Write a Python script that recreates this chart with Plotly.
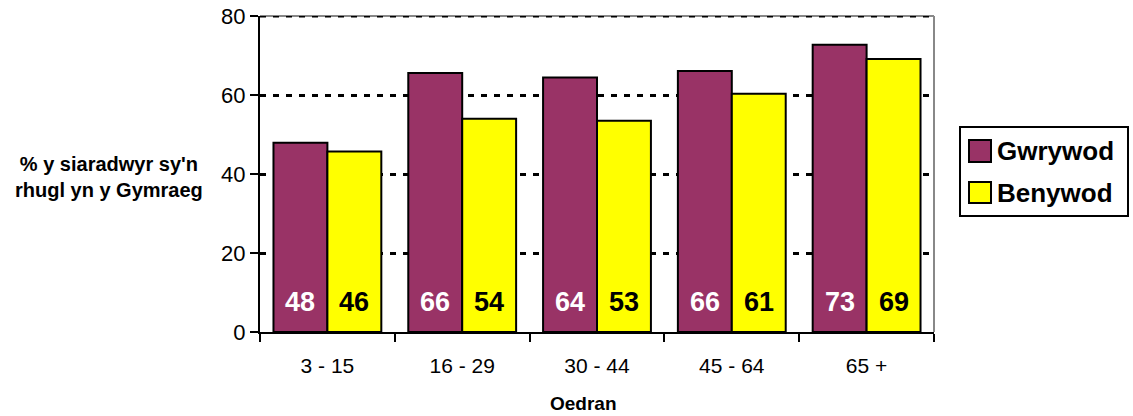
import plotly.graph_objects as go

categories = ["3 - 15", "16 - 29", "30 - 44", "45 - 64", "65 +"]
gwrywod = [47.9, 65.6, 64.4, 66.1, 72.7]
benywod = [45.7, 54.0, 53.5, 60.3, 69.1]
gwrywod_labels = ["48", "66", "64", "66", "73"]
benywod_labels = ["46", "54", "53", "61", "69"]
yticks = [0, 20, 40, 60, 80]

MAROON = "#993366"
YELLOW = "#FFFF00"
FONT = "Arial, Liberation Sans, sans-serif"

fig = go.Figure()
fig.add_trace(go.Bar(name="Gwrywod", x=categories, y=gwrywod, marker=dict(color=MAROON, line=dict(color="black", width=2)), showlegend=False))
fig.add_trace(go.Bar(name="Benywod", x=categories, y=benywod, marker=dict(color=YELLOW, line=dict(color="black", width=2)), showlegend=False))

annotations = []
for c, g, b in zip(categories, gwrywod_labels, benywod_labels):
    annotations.append(dict(x=c, y=7.5, xref="x", yref="y", text=g, showarrow=False, xshift=-27,
                            xanchor="center", yanchor="middle",
                            font=dict(family=FONT, size=27, color="white", weight="bold")))
    annotations.append(dict(x=c, y=7.5, xref="x", yref="y", text=b, showarrow=False, xshift=27,
                            xanchor="center", yanchor="middle",
                            font=dict(family=FONT, size=27, color="black", weight="bold")))

def px_x(p):
    return (p - 260) / 674
def px_y(p):
    return (332 - p) / 316

# axis titles
annotations.append(dict(x=px_x(109), y=px_y(177), xref="paper", yref="paper", text="% y siaradwyr sy'n<br>rhugl yn y Gymraeg",
                        showarrow=False, align="center", xanchor="center", yanchor="middle",
                        font=dict(family=FONT, size=20, color="black", weight="bold")))
annotations.append(dict(x=px_x(583), y=px_y(404), xref="paper", yref="paper", text="Oedran", showarrow=False,
                        xanchor="center", yanchor="middle",
                        font=dict(family=FONT, size=19, color="black", weight="bold")))

shapes = [
    dict(type="line", xref="paper", yref="paper", x0=0, x1=1, y0=1, y1=1, line=dict(color="#888888", width=2)),
    dict(type="line", xref="paper", yref="paper", x0=1, x1=1, y0=0, y1=1, line=dict(color="#888888", width=2)),
    dict(type="line", xref="paper", yref="y", x0=0, x1=1, y0=yticks[-1], y1=yticks[-1],
         line=dict(color="black", width=3, dash="6px,7px")),
    dict(type="rect", xref="paper", yref="paper", x0=px_x(960), x1=px_x(1128), y0=px_y(216), y1=px_y(127),
         line=dict(color="black", width=2), fillcolor="white"),
    dict(type="rect", xref="paper", yref="paper", x0=px_x(969), x1=px_x(991), y0=px_y(162), y1=px_y(140),
         line=dict(color="black", width=2), fillcolor=MAROON),
    dict(type="rect", xref="paper", yref="paper", x0=px_x(969), x1=px_x(991), y0=px_y(203), y1=px_y(182),
         line=dict(color="black", width=2), fillcolor=YELLOW),
]
annotations.append(dict(x=px_x(995), y=px_y(151), xref="paper", yref="paper", text="Gwrywod", showarrow=False,
                        xanchor="left", yanchor="middle",
                        font=dict(family=FONT, size=26, color="black", weight="bold")))
annotations.append(dict(x=px_x(995), y=px_y(193), xref="paper", yref="paper", text="Benywod", showarrow=False,
                        xanchor="left", yanchor="middle",
                        font=dict(family=FONT, size=26, color="black", weight="bold")))

fig.update_layout(
    width=1133, height=416,
    margin=dict(l=260, r=199, t=16, b=84),
    paper_bgcolor="white", plot_bgcolor="white",
    barmode="group", bargap=0.2, bargroupgap=0,
    annotations=annotations, shapes=shapes,
    font=dict(family=FONT, color="black"),
)
fig.update_xaxes(
    type="category", tickson="boundaries", ticks="outside", ticklen=8, tickwidth=2, tickcolor="black",
    showline=True, linecolor="black", linewidth=2, showgrid=False,
    tickfont=dict(size=21, color="black"), ticklabelstandoff=14, automargin=False,
)
fig.update_yaxes(
    range=[0, 80], tickvals=yticks, ticks="outside", ticklen=8, tickwidth=2, tickcolor="black",
    showline=True, linecolor="black", linewidth=2,
    showgrid=True, gridcolor="black", gridwidth=3, griddash="6px,7px",
    tickfont=dict(size=22, color="black"), zeroline=False, automargin=False,
)

fig.write_html("out.html", config={"displayModeBar": False},
               post_script="document.body.style.margin='0';document.body.style.overflow='hidden';")
